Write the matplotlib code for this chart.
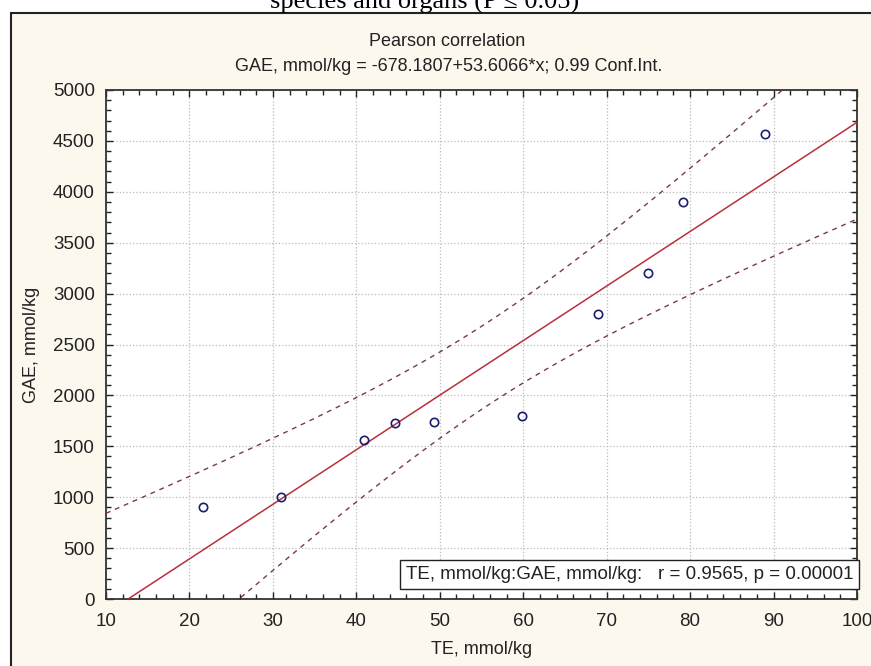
import matplotlib
matplotlib.use('Agg')
import matplotlib.pyplot as plt
from matplotlib.patches import Rectangle
from matplotlib.ticker import MultipleLocator
import numpy as np

# values
te = [21.6, 31.0, 40.9, 44.6, 49.3, 59.9, 69.0, 75.0, 79.1, 89.0]
gae = [905, 1000, 1562, 1732, 1742, 1798, 2800, 3200, 3903, 4565]

intercept = -678.1807
slope = 53.6066
t_99 = 3.3554  # t(0.995, df=8)

title_top = 'species and organs (P ≤ 0.05)'
title = 'Pearson correlation'
subtitle = 'GAE, mmol/kg = -678.1807+53.6066*x; 0.99 Conf.Int.'
stats_text = 'TE, mmol/kg:GAE, mmol/kg:   r = 0.9565, p = 0.00001'

plt.rcParams['font.family'] = ['Liberation Sans', 'DejaVu Sans']

fig = plt.figure(figsize=(8.71, 6.66), dpi=100)
fig.patch.set_facecolor('white')

# cream panel behind the chart
panel = Rectangle((11 / 871, -0.1), 1.2, 1.1 - 13 / 666,
                  transform=fig.transFigure, facecolor='#fcf8ee',
                  edgecolor='#222222', linewidth=1.5, zorder=-10)
fig.patches.append(panel)

fig.text(0.487, 0.9865, title_top, ha='center', va='baseline',
         fontsize=19, family=['Liberation Serif', 'DejaVu Serif'])
fig.text(0.513, 0.937, title, ha='center', va='center', fontsize=13,
         color='#222222')
fig.text(0.515, 0.900, subtitle, ha='center', va='center', fontsize=13,
         color='#222222')

ax = fig.add_axes([106 / 871, 1 - 599 / 666, 751 / 871, 509 / 666])
ax.set_facecolor('white')

x = np.array(te)
y = np.array(gae)
n = len(x)
resid = y - (intercept + slope * x)
s = np.sqrt(np.sum(resid ** 2) / (n - 2))
sxx = np.sum((x - x.mean()) ** 2)

xs = np.linspace(10, 100, 300)
fit = intercept + slope * xs
half = t_99 * s * np.sqrt(1 / n + (xs - x.mean()) ** 2 / sxx)

ax.plot(xs, fit, color='#b8303c', linewidth=1.1, zorder=3)
ax.plot(xs, fit + half, color='#7a3a44', linewidth=1.0,
        linestyle=(0, (3.5, 3.5)), zorder=3)
ax.plot(xs, fit - half, color='#7a3a44', linewidth=1.0,
        linestyle=(0, (3.5, 3.5)), zorder=3)
ax.plot(te, gae, linestyle='none', marker='o', markersize=6,
        markerfacecolor='none', markeredgecolor='#1c1c70',
        markeredgewidth=1.2, zorder=4)

ax.set_xlim(10, 100)
ax.set_ylim(0, 5000)
ax.xaxis.set_major_locator(MultipleLocator(10))
ax.xaxis.set_minor_locator(MultipleLocator(2))
ax.yaxis.set_major_locator(MultipleLocator(500))
ax.yaxis.set_minor_locator(MultipleLocator(100))

ax.grid(True, which='major', linestyle=':', color='#bbbbbb', linewidth=0.9)
ax.tick_params(which='both', direction='in', top=True, right=True,
               labelsize=13.5, colors='#222222', pad=8)
ax.tick_params(axis='x', which='both', pad=10)
ax.tick_params(which='major', length=5, width=1)
ax.tick_params(which='minor', length=3.5, width=1)
for sp in ax.spines.values():
    sp.set_color('#333333')
    sp.set_linewidth(1.3)

ax.set_xlabel('TE, mmol/kg', fontsize=13, color='#222222', labelpad=8)
ax.set_ylabel('GAE, mmol/kg', fontsize=13, color='#222222', labelpad=9)

ax.text(0.9947, 0.0315, stats_text, transform=ax.transAxes, ha='right',
        va='bottom', fontsize=13.5, color='#222222', zorder=6,
        bbox=dict(boxstyle='square,pad=0.3', facecolor='white',
                  edgecolor='#222222', linewidth=1.0))

fig.savefig('out.png', dpi=100)
